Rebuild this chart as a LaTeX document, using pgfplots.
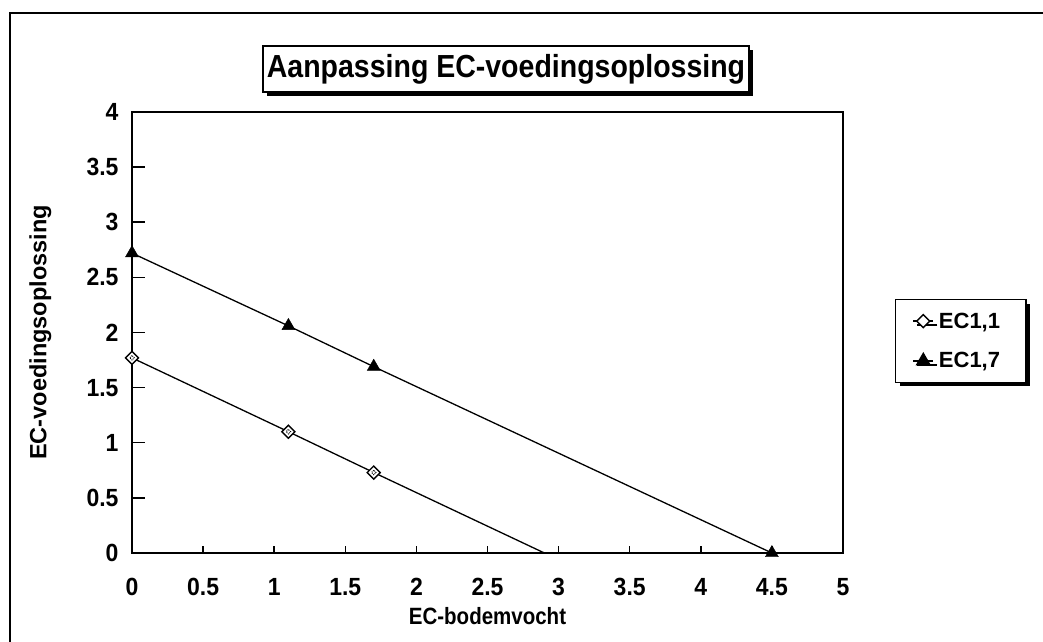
\documentclass[border=0pt]{standalone}
\usepackage{pgfplots}
\pgfplotsset{compat=1.18}
\usepackage{fontspec}
\setmainfont{Liberation Sans}
\usetikzlibrary{shadows}

\begin{document}
\begin{tikzpicture}[x=1bp,y=1bp]
\useasboundingbox (0,0) rectangle (1043,642);
\draw[line width=2bp] (10,-20) -- (10,629) -- (1060,629);
\begin{axis}[
  at={(132bp,89bp)}, anchor=south west, scale only axis,
  width=711bp, height=441bp,
  xmin=0, xmax=5, ymin=0, ymax=4,
  xtick={0,0.5,1,1.5,2,2.5,3,3.5,4,4.5,5},
  ytick={0,0.5,1,1.5,2,2.5,3,3.5,4},
  tick align=inside, xtick pos=bottom, ytick pos=left,
  xtick style={/pgfplots/major tick length=7bp, line width=1.5bp, black},
  ytick style={/pgfplots/major tick length=13bp, line width=1.5bp, black},
  axis line style={line width=1.8bp},
  /pgf/number format/assume math mode=true,
  ticklabel style={font=\bfseries\fontsize{23bp}{25bp}\selectfont, yscale=1.08},
  xticklabel style={yshift=-20bp},
  yticklabel style={xshift=-10bp},
  xlabel={EC-bodemvocht},
  ylabel={EC-voedingsoplossing},
  xlabel style={font=\bfseries\fontsize{20.5bp}{23bp}\selectfont, yscale=1.15, at={(axis description cs:0.5,-0.143)}, anchor=center},
  ylabel style={font=\bfseries\fontsize{23.5bp}{26bp}\selectfont, at={(axis description cs:-0.129,0.5)}, anchor=center},
  clip=false,
  legend style={at={(rel axis cs:1.073,0.576)}, anchor=north west,
    draw=black, line width=1.5bp, fill=white,
    drop shadow={shadow xshift=4bp, shadow yshift=-4bp, fill=black, opacity=1},
    font=\bfseries\fontsize{22bp}{25bp}\selectfont,
    inner xsep=17bp, inner ysep=11bp, row sep=19bp, column sep=3bp},
  legend cell align=left,
  legend image code/.code={%
    \draw[black, line width=1.3bp] (0bp,0bp) -- (20bp,0bp);
    \draw[#1] plot coordinates {(10bp,0bp)};},
]
\addplot[forget plot, black, line width=1.3bp] coordinates {(0,1.77) (1.1,1.1) (1.7,0.73) (2.9,0)};
\addplot[only marks, black, mark=square*, mark size=4.6bp,
  mark options={fill=white, line width=1.4bp, rotate=45}] coordinates {(0,1.77) (1.1,1.1) (1.7,0.73)};
\addlegendentry{EC1,1\hspace*{7bp}}
\addplot[forget plot, only marks, black, mark=square, mark size=1.6bp,
  mark options={line width=0.9bp, rotate=45, densely dotted}] coordinates {(0,1.77) (1.1,1.1) (1.7,0.73)};
\addplot[forget plot, black, line width=1.3bp] coordinates {(0,2.72) (1.1,2.06) (1.7,1.69) (4.5,0)};
\addplot[only marks, black, mark=triangle*, mark size=7.5bp,
  mark options={fill=black}] coordinates {(0,2.72) (1.1,2.06) (1.7,1.69) (4.5,0)};
\addlegendentry{EC1,7\hspace*{7bp}}
\end{axis}
\node[draw, line width=1.5bp, fill=white,
  drop shadow={shadow xshift=4bp, shadow yshift=-4bp, fill=black, opacity=1},
  inner xsep=4bp, inner ysep=8bp,
  font=\bfseries\fontsize{28.5bp}{32bp}\selectfont] at (506,573) {\scalebox{1}[1.12]{Aanpassing EC-voedingsoplossing}};
\end{tikzpicture}
\end{document}
